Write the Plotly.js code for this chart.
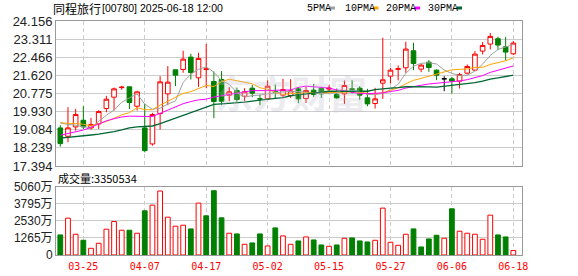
<!DOCTYPE html>
<html><head><meta charset="utf-8">
<script src="https://cdn.plot.ly/plotly-3.0.1.min.js"></script>
<style>html,body{margin:0;padding:0;background:#fff}#chart{width:578px;height:276px}</style>
</head><body><div id="chart"></div>
<script>
const dates = ['03-20','03-21','03-24','03-25','03-26','03-27','03-28','03-31','04-01','04-02',
 '04-03','04-07','04-08','04-09','04-10','04-11','04-14','04-15','04-16','04-17',
 '04-22','04-23','04-24','04-25','04-28','04-29','04-30','05-02','05-06','05-07',
 '05-08','05-09','05-12','05-13','05-14','05-15','05-16','05-19','05-20','05-21',
 '05-22','05-23','05-26','05-27','05-28','05-29','05-30','06-02','06-03','06-04',
 '06-05','06-06','06-09','06-10','06-11','06-12','06-13','06-16','06-17','06-18'];
const openP = [19.170,18.780,19.217,19.528,19.170,19.357,20.073,20.603,21.05,21.086,
 20.182,19.170,18.422,19.840,20.759,21.880,21.896,22.472,21.506,21.90,
 21.335,21.428,20.697,20.914,20.650,21.023,20.53,20.525,20.88,20.697,
 20.681,20.992,20.540,20.930,21.023,20.98,20.727,20.759,21.00,21.023,
 20.572,20.307,21.257,21.584,21.90,21.974,22.768,21.911,22.238,21.865,
 21.46,21.460,21.350,21.724,21.865,22.752,23.080,23.329,22.955,22.628];
const highP = [19.294,20.136,20.058,20.182,19.637,19.995,20.665,21.054,21.13,21.09,
 20.899,20.291,19.871,21.584,22.051,21.880,22.768,22.628,22.674,23.08,
 21.802,21.818,21.070,21.039,21.023,21.179,20.727,21.382,21.195,21.460,
 21.444,21.070,21.117,21.226,21.086,21.16,21.008,21.382,21.397,21.117,
 20.992,21.039,23.375,21.974,22.083,23.188,23.142,22.160,22.332,21.896,
 21.584,21.553,21.740,22.129,22.752,23.173,23.594,23.422,23.407,23.220];
const lowP = [18.298,18.500,19.045,19.123,19.092,19.123,19.902,19.980,20.95,20.05,
 19.980,18.033,18.344,19.092,20.229,21.117,21.740,21.428,21.086,21.02,
 19.622,20.229,20.416,20.385,20.416,20.603,20.229,20.494,20.525,20.572,
 20.572,20.322,20.338,20.618,20.572,20.90,20.525,20.291,20.774,20.478,
 20.182,20.073,20.525,21.241,21.382,21.740,21.865,21.771,21.787,21.397,
 20.883,20.774,21.008,21.662,21.818,22.597,22.830,22.799,22.316,22.566];
const closeP = [18.438,19.170,19.793,19.217,19.326,19.933,20.509,20.992,21.07,20.354,
 20.852,18.111,19.793,21.319,21.304,21.631,22.379,21.756,22.410,21.92,
 20.400,20.416,20.852,20.494,20.852,20.790,20.52,21.117,20.84,20.961,
 20.899,20.525,20.914,20.727,20.759,21.02,20.572,21.148,20.96,20.697,
 20.291,20.525,21.413,21.865,21.93,22.846,22.176,22.098,21.989,21.631,
 21.46,21.350,21.662,22.036,22.612,23.017,23.438,23.033,22.706,23.126];
const ma5 = [19.40,19.33,19.30,19.22,19.19,19.49,19.76,20.00,20.37,20.57,
 20.76,20.28,20.04,20.09,20.28,20.43,21.29,21.68,21.90,22.02,
 21.77,21.38,21.20,20.82,20.60,20.68,20.70,20.76,20.82,20.85,
 20.87,20.87,20.83,20.81,20.77,20.79,20.80,20.85,20.89,20.88,
 20.73,20.72,20.78,20.96,21.21,21.72,22.05,22.18,22.21,22.15,
 21.87,21.71,21.62,21.63,21.82,22.14,22.55,22.83,22.96,23.06];
const ma10 = [19.42,19.38,19.38,19.34,19.26,19.36,19.47,19.62,19.78,19.88,
 20.12,20.02,20.02,20.23,20.42,20.59,20.78,20.86,20.99,21.15,
 21.10,21.33,21.44,21.36,21.31,21.23,21.04,20.98,20.82,20.72,
 20.77,20.79,20.79,20.82,20.81,20.83,20.83,20.84,20.85,20.82,
 20.76,20.76,20.81,20.93,21.04,21.23,21.39,21.48,21.58,21.68,
 21.79,21.88,21.90,21.92,21.99,22.00,22.13,22.22,22.30,22.44];
const ma20 = [18.83,18.90,18.98,19.07,19.20,19.35,19.50,19.60,19.68,19.72,
 19.71,19.69,19.70,19.85,20.00,20.18,20.30,20.40,20.48,20.51,
 20.61,20.67,20.73,20.79,20.87,20.91,20.91,20.92,20.91,20.94,
 20.94,21.06,21.12,21.09,21.06,21.03,20.94,20.91,20.83,20.77,
 20.77,20.77,20.80,20.87,20.92,21.03,21.11,21.16,21.22,21.25,
 21.28,21.32,21.36,21.42,21.51,21.61,21.76,21.85,21.94,22.06];
const ma30 = [18.69,18.72,18.76,18.80,18.84,18.88,18.93,19.00,19.08,19.17,
 19.22,19.24,19.26,19.37,19.50,19.63,19.77,19.90,20.03,20.17,
 20.27,20.29,20.31,20.33,20.37,20.42,20.47,20.51,20.55,20.58,
 20.67,20.71,20.75,20.80,20.85,20.88,20.89,20.89,20.89,20.90,
 20.88,20.96,21.01,21.03,21.05,21.09,21.09,21.10,21.08,21.07,
 21.11,21.14,21.17,21.22,21.28,21.35,21.45,21.50,21.56,21.63];
const volume = [1488,2728,1538,1091,496,868,1910,2480,1835,1835,
 1612,3274,3695,4737,2802,2133,2207,1934,3844,2902,
 4762,2753,1612,1562,794,893,1562,670,2009,1414,
 794,1042,1339,1116,744,645,744,1240,1265,1042,
 967,1091,3472,942,719,1538,1934,595,1190,1463,
 1240,3422,1761,1612,1538,1166,2951,1488,1339,335];
const volUp = [0,1,1,0,1,1,1,1,1,0, 1,0,1,1,1,1,1,0,1,0,
 0,0,1,0,1,0,0,1,0,1, 1,0,1,0,0,1,0,1,0,0,
 0,1,1,1,1,1,0,0,0,0, 1,0,1,1,1,1,1,0,0,1];
const priceTicks = [24.156,23.311,22.466,21.620,20.775,19.930,19.084,18.239,17.394];
const volTicks = [0,1265,2530,3795,5060];
const volTickText = ['0','1265万','2530万','3795万','5060万'];
const dateTicks = ['03-25','04-07','04-17','05-02','05-15','05-27','06-06','06-18'];
const titleName = '同程旅行';
const titleRest = '[00780] 2025-06-18 12:00';
const volLabel = '成交量:3350534';
const maNames = ['5PMA','10PMA','20PMA','30PMA'];
const maColors = ['#a0a0a0','#ffa500','#ff00ff','#006633'];

const L=56, R=522, T=21, B=255;
const px = x => (x-L)/(R-L);
const py = y => (B-y)/(B-T);
const RED='#ff0000', GREEN='#008000';

const idxN=[], idxF=[];
dates.forEach((d,i)=>{ (openP[i]===closeP[i]?idxF:idxN).push(i); });
const pick=(arr,ix)=>ix.map(i=>arr[i]);

const traces = [
 {type:'candlestick', x:pick(dates,idxN), open:pick(openP,idxN), high:pick(highP,idxN), low:pick(lowP,idxN), close:pick(closeP,idxN),
  increasing:{line:{color:RED,width:1}, fillcolor:'#ffffff'},
  decreasing:{line:{color:GREEN,width:1}, fillcolor:GREEN},
  whiskerwidth:0, hoverinfo:'skip', xaxis:'x', yaxis:'y', showlegend:false},
 {type:'candlestick', x:pick(dates,idxF), open:pick(openP,idxF), high:pick(highP,idxF), low:pick(lowP,idxF), close:pick(closeP,idxF),
  increasing:{line:{color:'#000000',width:1}, fillcolor:'#000000'},
  decreasing:{line:{color:'#000000',width:1}, fillcolor:'#000000'},
  whiskerwidth:0, hoverinfo:'skip', xaxis:'x', yaxis:'y', showlegend:false}
];
[ma5,ma10,ma20,ma30].forEach((m,k)=>{
 traces.push({type:'scatter', mode:'lines', x:dates, y:m, line:{color:maColors[k], width:k===3?1.3:1},
  hoverinfo:'skip', xaxis:'x', yaxis:'y', showlegend:false});
});
traces.push({type:'bar', x:dates, y:volume, width:0.62, xaxis:'x2', yaxis:'y2', hoverinfo:'skip', showlegend:false,
 marker:{color:volUp.map(u=>u?'#ffffff':GREEN), line:{color:volUp.map(u=>u?RED:GREEN), width:1}}});

const xBase = {type:'category', categoryorder:'array', categoryarray:dates, range:[-0.56,60.13],
 tickvals:dateTicks, showgrid:true, gridcolor:'#cccccc', griddash:'4px,3px', gridwidth:1,
 showline:true, mirror:true, linecolor:'#999999', linewidth:1, ticks:'', zeroline:false, fixedrange:true,
 rangeslider:{visible:false}};
const yBase = {showgrid:true, gridcolor:'#cccccc', gridwidth:1, showline:true, mirror:true, linecolor:'#999999',
 linewidth:1, ticks:'', zeroline:false, fixedrange:true};

const annotations = [
 {text:titleName, x:px(51), y:py(8.5), xref:'paper', yref:'paper', xanchor:'left', yanchor:'middle', showarrow:false,
  font:{family:'Noto Sans CJK SC', size:12, color:'#000'}},
 {text:titleRest, x:px(100), y:py(8.5), xref:'paper', yref:'paper', xanchor:'left', yanchor:'middle', showarrow:false,
  font:{family:'Liberation Sans', size:10.5, color:'#000'}},
 {text:volLabel, x:px(56), y:py(177.5), xref:'paper', yref:'paper', xanchor:'left', yanchor:'middle', showarrow:false,
  font:{family:'Noto Sans CJK SC', size:11, color:'#000'}},
 {text:'东方财富', x:px(291), y:py(91), xref:'paper', yref:'paper', xanchor:'center', yanchor:'middle', showarrow:false,
  font:{family:'Noto Sans CJK SC', size:38, color:'rgba(190,190,205,0.3)', weight:'bold'}}
];
const legX = [305,343,384,426], sqX=[330,373.5,415,457];
const shapes = [];
maNames.forEach((n,k)=>{
 annotations.push({text:n, x:px(legX[k]), y:py(8.5), xref:'paper', yref:'paper', xanchor:'left', yanchor:'middle',
  showarrow:false, font:{family:'Liberation Mono', size:10, color:'#000'}});
 shapes.push({type:'rect', xref:'paper', yref:'paper', x0:px(sqX[k]), x1:px(sqX[k]+5), y0:py(9.5), y1:py(6.5),
  fillcolor:maColors[k], line:{width:0}});
});

const layout = {
 width:578, height:276, margin:{l:L, r:578-R, t:T, b:276-B, pad:0},
 paper_bgcolor:'#fff', plot_bgcolor:'#fff', showlegend:false, boxgap:0.4, boxgroupgap:0, dragmode:false,
 xaxis: Object.assign({}, xBase, {anchor:'y', showticklabels:false}),
 xaxis2: Object.assign({}, xBase, {anchor:'y2', showticklabels:true, ticklabelstandoff:2,
   tickfont:{family:'DejaVu Sans Mono', size:10, color:RED}}),
 yaxis: Object.assign({}, yBase, {domain:[0.3803,1], range:[17.394,24.156], tickvals:priceTicks,
   ticktext:priceTicks.map(v=>v.toFixed(3)), tickfont:{family:'Liberation Sans', size:13, color:'#222'}}),
 yaxis2: Object.assign({}, yBase, {domain:[0,0.2919], range:[0,5060], tickvals:volTicks, ticktext:volTickText,
   tickfont:{family:'Liberation Sans, Noto Sans CJK SC', size:12, color:'#222'}}),
 annotations, shapes
};
Plotly.newPlot('chart', traces, layout, {staticPlot:true, displayModeBar:false});
</script></body></html>
